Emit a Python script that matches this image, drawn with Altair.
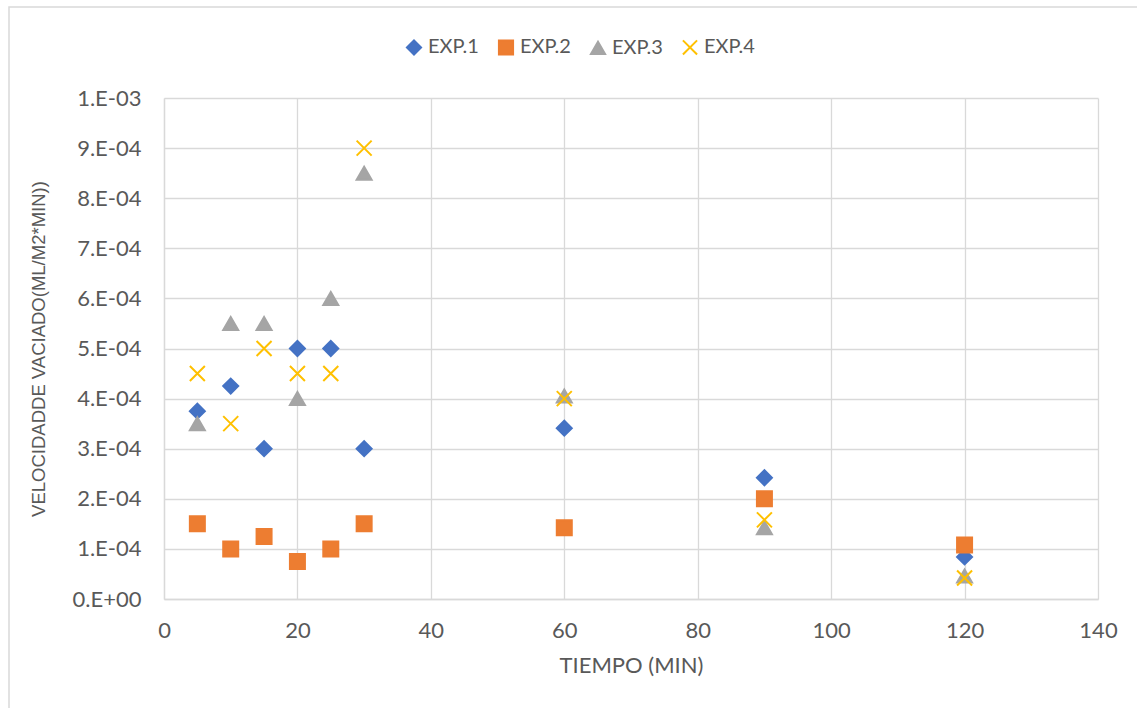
import altair as alt
import pandas as pd

# Sampling times (min)
tiempo = [5, 10, 15, 20, 25, 30, 60, 90, 120]

# Emptying rate for each experiment (mL/m2*min)
exp1 = [3.75e-4, 4.25e-4, 3.0e-4, 5.0e-4, 5.0e-4, 3.0e-4, 3.41e-4, 2.42e-4, 0.84e-4]
exp2 = [1.5e-4, 1.0e-4, 1.25e-4, 0.75e-4, 1.0e-4, 1.5e-4, 1.42e-4, 2.0e-4, 1.08e-4]
exp3 = [3.5e-4, 5.5e-4, 5.5e-4, 4.0e-4, 6.0e-4, 8.5e-4, 4.05e-4, 1.42e-4, 0.46e-4]
exp4 = [4.5e-4, 3.5e-4, 5.0e-4, 4.5e-4, 4.5e-4, 9.0e-4, 4.0e-4, 1.58e-4, 0.42e-4]

series = ["EXP.1", "EXP.2", "EXP.3", "EXP.4"]
colors = ["#4472c4", "#ed7d31", "#a5a5a5", "#ffc000"]
x_path = "M-1,-1L1,1M-1,1L1,-1"
shapes = ["diamond", "square", "triangle-up", x_path]

rows = []
for name, vals in zip(series, [exp1, exp2, exp3, exp4]):
    for t, v in zip(tiempo, vals):
        rows.append({"tiempo": t, "velocidad": v, "serie": name})
df = pd.DataFrame(rows)

FONT = "Lato"
TITLE_Y_FONT = "Liberation Sans"
TXT = "#595959"
GRID = "#d9d9d9"

y_label_expr = (
    "datum.value == 0 ? '0.E+00' : datum.value >= 0.00099 ? '1.E-03' : "
    "format(datum.value * 10000, '.0f') + '.E-04'"
)

legend_cfg = alt.Legend(
    title=None, orient="none", direction="horizontal",
    legendX=240, legendY=-61, labelFont=FONT, labelFontSize=20,
    labelColor=TXT, symbolSize=200, columnPadding=15, symbolStrokeWidth=2,
    labelOffset=4, padding=0,
)

points = alt.Chart(df).mark_point(opacity=1, size=225, strokeWidth=2).encode(
    x=alt.X("tiempo:Q", title="TIEMPO (MIN)",
            scale=alt.Scale(domain=[0, 140], nice=False),
            axis=alt.Axis(values=[0, 20, 40, 60, 80, 100, 120, 140], labelFlush=False,
                          labelPadding=21, titlePadding=14, titleFontSize=22)),
    y=alt.Y("velocidad:Q", title="VELOCIDADDE VACIADO(ML/M2*MIN))",
            scale=alt.Scale(domain=[0, 0.001], nice=False),
            axis=alt.Axis(values=[i * 1e-4 for i in range(11)], labelExpr=y_label_expr,
                          labelFlush=False, labelPadding=23, titlePadding=24,
                          titleFont=TITLE_Y_FONT, titleFontSize=18.5)),
    shape=alt.Shape("serie:N", scale=alt.Scale(domain=series, range=shapes), legend=legend_cfg),
    fill=alt.Fill("serie:N", scale=alt.Scale(domain=series,
                  range=[colors[0], colors[1], colors[2], "transparent"]), legend=legend_cfg),
    stroke=alt.Stroke("serie:N", scale=alt.Scale(domain=series, range=colors), legend=legend_cfg),
)

# outer chart frame
frame = alt.Chart(pd.DataFrame({"k": [0]})).mark_rect(
    fill="transparent", stroke=GRID, strokeWidth=1.5
).encode(
    x=alt.value(-155), x2=alt.value(1000), y=alt.value(-91), y2=alt.value(625)
)

chart = alt.layer(frame, points).properties(
    width=934, height=501,
    autosize=alt.AutoSizeParams(type="none"),
    padding={"left": 164, "top": 98, "right": 39, "bottom": 109},
    background="white",
).configure_view(stroke=None).configure_axis(
    labelFont=FONT, labelFontSize=22, labelColor=TXT,
    titleFont=FONT, titleColor=TXT, titleFontWeight="normal",
    gridColor=GRID, gridWidth=1.3, domainColor=GRID, domainWidth=1.3,
    ticks=False,
)

chart.save("out.html", embed_options={"renderer": "svg", "actions": False})
